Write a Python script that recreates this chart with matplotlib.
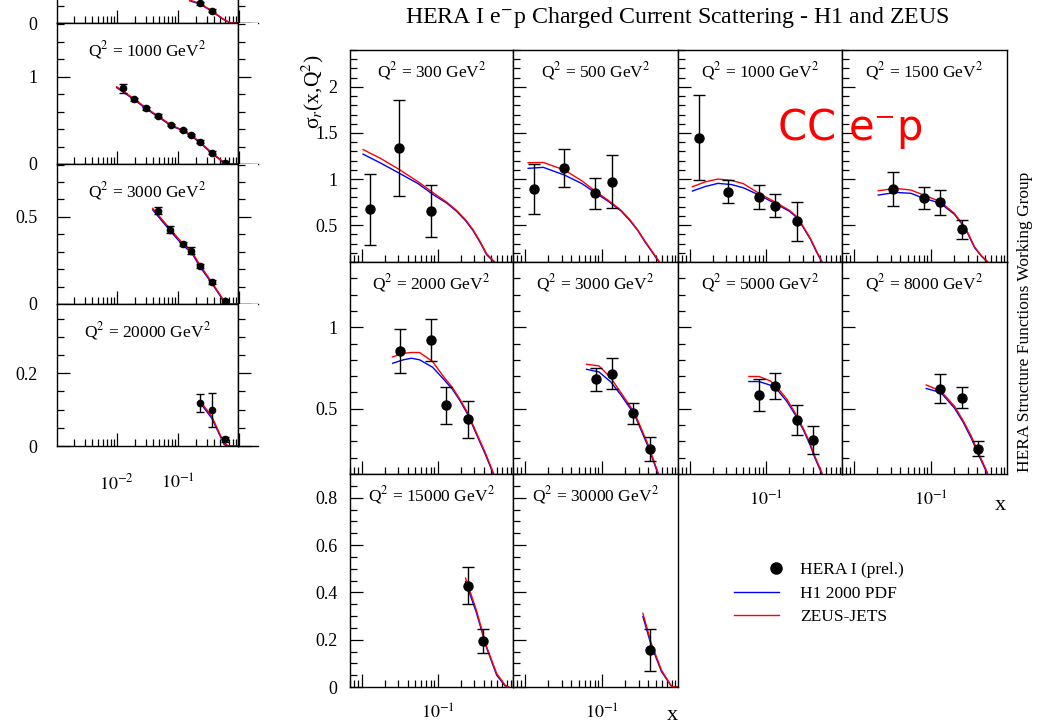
import numpy as np
import matplotlib.pyplot as plt
from matplotlib.ticker import MultipleLocator, LogLocator, FuncFormatter, NullFormatter
from matplotlib.lines import Line2D
from matplotlib.legend_handler import HandlerLine2D

plt.rcParams['font.family'] = 'Liberation Serif'
plt.rcParams['mathtext.fontset'] = 'stix'

# ---- main grid: HERA I e-p charged current, one entry per panel ----
q2_main = [300, 500, 1000, 1500, 2000, 3000, 5000, 8000, 15000, 30000]
x_main = [[0.0127, 0.031, 0.080],
          [0.0131, 0.0326, 0.0818, 0.133],
          [0.0131, 0.0316, 0.080, 0.130, 0.251],
          [0.0326, 0.0809, 0.131, 0.253],
          [0.0316, 0.080, 0.127, 0.25],
          [0.0826, 0.133, 0.256, 0.415],
          [0.080, 0.131, 0.251, 0.408],
          [0.131, 0.253, 0.408],
          [0.25, 0.394],
          [0.415]]
sig_main = [[0.67, 1.334, 0.655],
            [0.891, 1.116, 0.845, 0.971],
            [1.449, 0.862, 0.808, 0.71, 0.543],
            [0.891, 0.79, 0.747, 0.453],
            [0.855, 0.922, 0.521, 0.436],
            [0.681, 0.716, 0.472, 0.252],
            [0.583, 0.64, 0.431, 0.309],
            [0.624, 0.569, 0.256],
            [0.428, 0.194],
            [0.156]]
err_main = [[0.39, 0.52, 0.28],
            [0.27, 0.205, 0.17, 0.29],
            [0.46, 0.127, 0.128, 0.125, 0.21],
            [0.18, 0.12, 0.136, 0.108],
            [0.137, 0.128, 0.114, 0.113],
            [0.07, 0.095, 0.063, 0.072],
            [0.098, 0.08, 0.091, 0.087],
            [0.089, 0.067, 0.048],
            [0.079, 0.05],
            [0.089]]
cx_main = [[0.0104, 0.018, 0.0316, 0.055, 0.087, 0.13, 0.176, 0.23, 0.29, 0.36, 0.436, 0.56, 0.65],
           [0.011, 0.0173, 0.0326, 0.055, 0.0785, 0.12, 0.176, 0.23, 0.292, 0.36, 0.437, 0.56, 0.65],
           [0.0108, 0.016, 0.0233, 0.035, 0.05, 0.08, 0.13, 0.20, 0.251, 0.30, 0.376, 0.45, 0.536, 0.62],
           [0.0207, 0.035, 0.055, 0.0809, 0.131, 0.20, 0.253, 0.30, 0.368, 0.45, 0.552, 0.63],
           [0.0254, 0.035, 0.045, 0.0575, 0.085, 0.117, 0.155, 0.195, 0.25, 0.32, 0.42, 0.535, 0.62],
           [0.063, 0.0912, 0.13, 0.176, 0.264, 0.395, 0.535, 0.62],
           [0.059, 0.08, 0.112, 0.145, 0.185, 0.24, 0.307, 0.37, 0.428, 0.53, 0.62],
           [0.0869, 0.134, 0.201, 0.26, 0.333, 0.451, 0.54, 0.62],
           [0.231, 0.32, 0.437, 0.592, 0.762, 0.85],
           [0.34, 0.437, 0.592, 0.80, 0.95]]
h1_main = [[1.27, 1.17, 1.06, 0.95, 0.83, 0.74, 0.65, 0.55, 0.44, 0.31, 0.18, 0.09, 0.02],
           [1.116, 1.127, 1.043, 0.95, 0.862, 0.76, 0.655, 0.55, 0.44, 0.32, 0.22, 0.09, 0.02],
           [0.87, 0.92, 0.953, 0.94, 0.905, 0.827, 0.735, 0.65, 0.58, 0.48, 0.345, 0.21, 0.09, 0.0],
           [0.826, 0.855, 0.845, 0.79, 0.74, 0.62, 0.51, 0.41, 0.255, 0.165, 0.09, 0.02],
           [0.779, 0.80, 0.81, 0.80, 0.755, 0.685, 0.62, 0.55, 0.46, 0.345, 0.22, 0.10, 0.015],
           [0.742, 0.726, 0.665, 0.585, 0.465, 0.27, 0.10, 0.02],
           [0.667, 0.667, 0.645, 0.605, 0.545, 0.46, 0.365, 0.28, 0.20, 0.10, 0.015],
           [0.624, 0.60, 0.505, 0.42, 0.32, 0.18, 0.10, 0.02],
           [0.445, 0.315, 0.165, 0.05, 0.005, 0.0],
           [0.297, 0.175, 0.065, 0.002, 0.0]]
zeus_main = [[1.32, 1.22, 1.10, 0.97, 0.85, 0.75, 0.66, 0.56, 0.45, 0.32, 0.19, 0.10, 0.03],
             [1.177, 1.18, 1.098, 0.98, 0.88, 0.77, 0.663, 0.56, 0.446, 0.33, 0.228, 0.10, 0.03],
             [0.917, 0.97, 1.0, 0.985, 0.95, 0.845, 0.75, 0.66, 0.59, 0.49, 0.355, 0.22, 0.10, 0.0],
             [0.873, 0.899, 0.88, 0.826, 0.757, 0.63, 0.518, 0.42, 0.264, 0.17, 0.10, 0.03],
             [0.818, 0.84, 0.845, 0.845, 0.79, 0.701, 0.63, 0.558, 0.47, 0.354, 0.23, 0.108, 0.02],
             [0.773, 0.763, 0.69, 0.599, 0.477, 0.282, 0.108, 0.03],
             [0.698, 0.698, 0.671, 0.62, 0.558, 0.47, 0.374, 0.29, 0.21, 0.108, 0.02],
             [0.646, 0.609, 0.517, 0.43, 0.333, 0.19, 0.108, 0.03],
             [0.46, 0.325, 0.17, 0.057, 0.008, 0.0],
             [0.311, 0.184, 0.071, 0.003, 0.0]]

# ---- left strip: cropped part of the neighbouring figure ----
q2_left = [None, 1000, 3000, 20000]
x_left = [[0.229, 0.365],
          [0.0129, 0.0195, 0.0307, 0.0479, 0.0773, 0.1236, 0.168, 0.231, 0.365, 0.59],
          [0.0477, 0.0755, 0.123, 0.168, 0.231, 0.365, 0.59],
          [0.231, 0.365, 0.59]]
sig_left = [[0.226, 0.141],
            [0.867, 0.741, 0.638, 0.553, 0.447, 0.389, 0.332, 0.256, 0.13, 0.015],
            [0.534, 0.425, 0.343, 0.305, 0.219, 0.124, 0.015],
            [0.119, 0.099, 0.018]]
err_left = [[0.02, 0.02],
            [0.05, 0.02, 0.02, 0.02, 0.015, 0.015, 0.015, 0.015, 0.015, 0.015],
            [0.02, 0.02, 0.012, 0.02, 0.012, 0.012, 0.012],
            [0.025, 0.046, 0.008]]
cx_left = [[0.158, 0.229, 0.365, 0.55, 0.736, 1.0],
           [0.01, 0.0195, 0.0307, 0.0479, 0.0773, 0.1236, 0.168, 0.231, 0.365, 0.6, 0.68, 1.0],
           [0.039, 0.0755, 0.123, 0.168, 0.231, 0.365, 0.6, 0.7, 1.0],
           [0.231, 0.365, 0.58, 0.7, 1.0]]
h1_left = [[0.255, 0.22, 0.135, 0.045, 0.0, 0.0],
           [0.875, 0.735, 0.63, 0.54, 0.44, 0.378, 0.322, 0.245, 0.12, 0.005, 0.0, 0.0],
           [0.54, 0.42, 0.335, 0.297, 0.215, 0.118, 0.005, 0.0, 0.0],
           [0.12, 0.076, 0.004, 0.0, 0.0]]
zeus_left = [[0.263, 0.226, 0.141, 0.05, 0.0, 0.0],
             [0.885, 0.745, 0.64, 0.55, 0.45, 0.385, 0.33, 0.255, 0.13, 0.01, 0.0, 0.0],
             [0.549, 0.43, 0.345, 0.305, 0.225, 0.125, 0.01, 0.0, 0.0],
             [0.125, 0.081, 0.007, 0.0, 0.0]]

W, H = 1041, 725
fig = plt.figure(figsize=(W / 100, H / 100), dpi=100)


def box(x0, y0, x1, y1):
    # pixel rectangle (top-left origin) -> figure fraction
    return [x0 / W, 1 - y1 / H, (x1 - x0) / W, (y1 - y0) / H]


def yfmt(v, pos):
    return '%g' % round(v, 3)


def root_axes(rect, xlim, ylim, major, minor):
    ax = fig.add_axes(rect)
    ax.set_xscale('log')
    ax.set_xlim(xlim)
    ax.set_ylim(ylim)
    ax.xaxis.set_major_locator(LogLocator(10))
    ax.xaxis.set_minor_locator(LogLocator(10, subs=np.arange(2, 10)))
    ax.xaxis.set_major_formatter(NullFormatter())
    ax.xaxis.set_minor_formatter(NullFormatter())
    ax.yaxis.set_major_locator(MultipleLocator(major))
    ax.yaxis.set_minor_locator(MultipleLocator(minor))
    ax.yaxis.set_major_formatter(FuncFormatter(yfmt))
    ax.tick_params(which='both', direction='in', width=0.9, colors='black')
    ax.tick_params(which='major', length=9.5, labelsize=13)
    ax.tick_params(which='minor', length=5)
    for s in ax.spines.values():
        s.set_linewidth(1.0)
    return ax


def draw(ax, xs, ys, es, cx, h1, zeus, ms, cap):
    ax.plot(cx, h1, color='blue', lw=1.0)
    ax.plot(cx, zeus, color='red', lw=1.0)
    ax.errorbar(xs, ys, yerr=es, fmt='o', color='black', ms=ms,
                capsize=cap, elinewidth=1.0, capthick=1.0)


def decade_fmt(keep):
    def f(v, pos):
        for k in keep:
            if abs(np.log10(v) - k) < 1e-6:
                return r'$10^{%d}$' % k
        return ''
    return FuncFormatter(f)


# main grid
col_edges = [350, 513, 678, 842, 1007]
row_edges = [50, 262, 474, 687]
row_ylim = [(0.1, 2.4), (0.1, 1.4), (0, 0.9)]
row_major = [0.5, 0.5, 0.2]
row_minor = [0.1, 0.1, 0.05]
bottom_panel = {0: 2, 1: 2, 2: 1, 3: 1}

for i, q2 in enumerate(q2_main):
    r, c = divmod(i, 4)
    ax = root_axes(box(col_edges[c], row_edges[r], col_edges[c + 1], row_edges[r + 1]),
                   (0.007, 0.97), row_ylim[r], row_major[r], row_minor[r])
    ax.tick_params(axis='y', pad=9, labelleft=(c == 0))
    if bottom_panel[c] == r:
        ax.xaxis.set_major_formatter(decade_fmt([-1]))
        ax.tick_params(axis='x', pad=12, labelsize=13)
    draw(ax, x_main[i], sig_main[i], err_main[i], cx_main[i], h1_main[i], zeus_main[i], 6.5, 4.5)
    ax.text(0.5, 0.9, r'Q$^2$ = %d GeV$^2$' % q2, transform=ax.transAxes,
            ha='center', va='center', fontsize=12.5)

# left strip
left_rows = [(-118, 23), (23, 164), (164, 304), (304, 446)]
left_ylim = [(0, 1.62), (0, 1.615), (0, 0.803), (0, 0.39)]
left_major = [1, 1, 0.5, 0.2]
left_minor = [0.2, 0.2, 0.1, 0.05]
for i, q2 in enumerate(q2_left):
    y0, y1 = left_rows[i]
    ax = root_axes(box(57, y0, 238, y1), (1.05e-3, 0.98), left_ylim[i],
                   left_major[i], left_minor[i])
    ax.tick_params(axis='y', pad=14)
    if q2 is None:
        ax.yaxis.set_major_formatter(FuncFormatter(lambda v, p: '0' if abs(v) < 1e-9 else ''))
    if i == len(q2_left) - 1:
        ax.xaxis.set_major_formatter(decade_fmt([-2, -1]))
        ax.tick_params(axis='x', pad=20, labelsize=13)
    draw(ax, x_left[i], sig_left[i], err_left[i], cx_left[i], h1_left[i], zeus_left[i], 4.5, 3)
    if q2:
        ax.text(0.5, 0.81, r'Q$^2$ = %d GeV$^2$' % q2, transform=ax.transAxes,
                ha='center', va='center', fontsize=12.5)
    # sliver of the next column of that figure
    sl = root_axes(box(238, y0, 258, y1), (0.98, 1.3), left_ylim[i],
                   left_major[i], left_minor[i])
    sl.xaxis.set_major_locator(LogLocator(10, subs=[]))
    sl.xaxis.set_minor_locator(LogLocator(10, subs=[]))
    sl.tick_params(axis='y', labelleft=False)
    sl.spines['top'].set_visible(False)
    sl.spines['right'].set_visible(False)

# texts
fig.text(677 / W, 1 - 17 / H, 'HERA I e$^{-}$p Charged Current Scattering - H1 and ZEUS',
         ha='center', va='center', fontsize=17.2)
fig.text(313 / W, 1 - 92 / H, 'σ$_r$(x,Q$^2$)', rotation=90,
         ha='center', va='center', fontsize=15.5)
fig.text(1025 / W, 1 - 322 / H, 'HERA Structure Functions Working Group', rotation=90,
         ha='center', va='center', fontsize=12.5)
fig.text(1000 / W, 1 - 506 / H, 'x', ha='center', va='center', fontsize=16)
fig.text(672 / W, 1 - 716 / H, 'x', ha='center', va='center', fontsize=16)
fig.text(777 / W, 1 - 140 / H, 'CC e$^{\\mathsf{-}}$p', color='red', family='DejaVu Sans',
         ha='left', va='baseline', fontsize=30)


class RightMarker(HandlerLine2D):
    # put the legend dot at the right end of the handle, as in the original
    def get_xdata(self, legend, xdescent, ydescent, width, height, fontsize):
        xr = -xdescent + width - 0.2 * fontsize
        return np.array([xr]), np.array([xr])


dot = Line2D([0], [0], marker='o', color='black', ls='none', ms=8)
handles = [dot,
           Line2D([0], [0], color='blue', lw=1.0),
           Line2D([0], [0], color='red', lw=1.0)]
fig.legend(handles, ['HERA I (prel.)', 'H1 2000 PDF', 'ZEUS-JETS'],
           loc='upper left', bbox_to_anchor=(734 / W, 1 - 562 / H), frameon=False,
           fontsize=12.5, numpoints=1, handlelength=2.6, handletextpad=1.2,
           labelspacing=0.42, borderpad=0, borderaxespad=0,
           handler_map={dot: RightMarker()})

fig.savefig('out.png', dpi=100)
